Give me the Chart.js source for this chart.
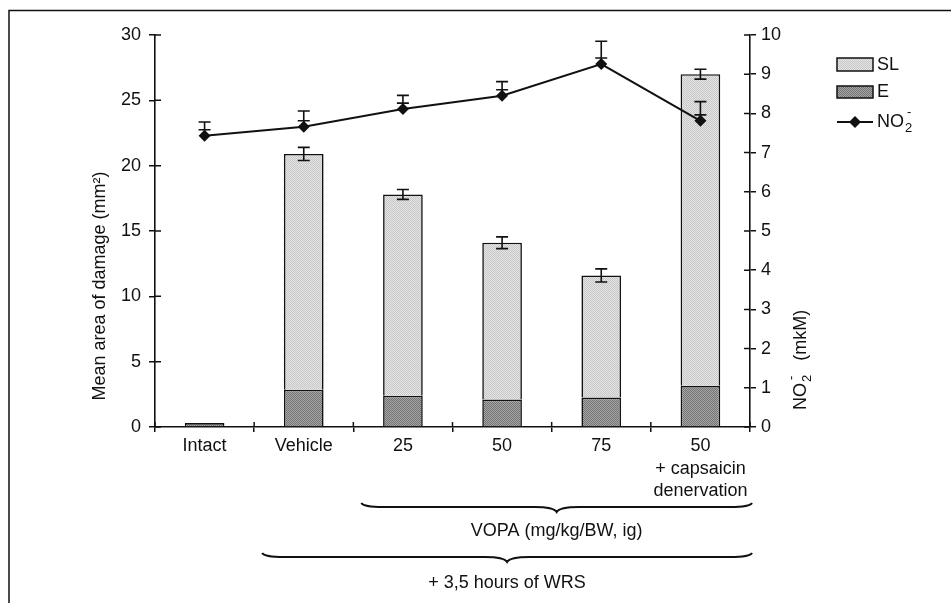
<!DOCTYPE html>
<html>
<head>
<meta charset="utf-8">
<script src="https://cdn.jsdelivr.net/npm/chart.js@4.4.1/dist/chart.umd.min.js"></script>
<style>
  html, body { margin: 0; padding: 0; background: #fff; }
  #wrap { width: 951px; height: 603px; }
</style>
</head>
<body>
<div id="wrap"><canvas id="chart" width="951" height="603"></canvas></div>
<script>
// categories on the x axis
const categories = ['Intact', 'Vehicle', '25', '50', '75', ['50', '+ capsaicin', 'denervation']];
// erosions (E), bottom part of each bar, mm2
const erosionE = [0.3, 2.85, 2.4, 2.1, 2.25, 3.15];
// superficial lesions (SL), top part of each bar, mm2
const lesionSL = [0, 18.05, 15.4, 12.0, 9.35, 23.85];
// error of total damage
const damageErr = [0, 0.5, 0.38, 0.45, 0.5, 0.38];
// nitrite level, right axis, mkM
const no2 = [7.43, 7.66, 8.11, 8.45, 9.26, 7.81];
const no2Err = [0.35, 0.4, 0.35, 0.36, 0.58, 0.49];
// axis ranges
const leftTicks = [0, 5, 10, 15, 20, 25, 30];
const rightTicks = [0, 1, 2, 3, 4, 5, 6, 7, 8, 9, 10];

const FONT = '"Liberation Sans", Arial, sans-serif';
const FS = 18;
const INK = '#111';

// stippled fills like the scanned figure
function makePattern(c1, c2) {
    const p = document.createElement('canvas');
    p.width = 2; p.height = 2;
    const g = p.getContext('2d');
    g.fillStyle = c1; g.fillRect(0, 0, 2, 2);
    g.fillStyle = c2; g.fillRect(0, 0, 1, 1); g.fillRect(1, 1, 1, 1);
    return g.createPattern(p, 'repeat');
}
const ctx = document.getElementById('chart').getContext('2d');
const fillSL = makePattern('#e4e4e4', '#c8c8c8');
const fillE = makePattern('#a6a6a6', '#737373');

function drawBrace(c, x1, x2, y0) {
    const mid = (x1 + x2) / 2;
    c.beginPath();
    c.moveTo(x1, y0);
    c.quadraticCurveTo(x1 + 2, y0 + 4, x1 + 22, y0 + 4);
    c.lineTo(mid - 22, y0 + 4);
    c.quadraticCurveTo(mid - 3, y0 + 4, mid, y0 + 9);
    c.quadraticCurveTo(mid + 3, y0 + 4, mid + 22, y0 + 4);
    c.lineTo(x2 - 22, y0 + 4);
    c.quadraticCurveTo(x2 - 2, y0 + 4, x2, y0);
    c.stroke();
}

// NO2- with subscript and superscript, drawn from (x, y) left-middle
function drawNO2(c, x, y, size) {
    c.textAlign = 'left';
    c.textBaseline = 'middle';
    c.font = size + 'px ' + FONT;
    c.fillText('NO', x, y);
    let w = c.measureText('NO').width;
    c.font = Math.round(size * 0.72) + 'px ' + FONT;
    c.fillText('2', x + w + 1, y + 6);
    c.fillText('-', x + w + 3, y - 10);
    return w + 1 + c.measureText('2').width;
}

const decor = {
    id: 'decor',
    afterDatasetsDraw(chart) {
        const c = chart.ctx;
        const y = chart.scales.y, y2 = chart.scales.y2;
        c.save();
        c.strokeStyle = INK;
        c.lineWidth = 1.6;
        // error bars on the stacked bars
        const slMeta = chart.getDatasetMeta(2);
        slMeta.data.forEach((bar, i) => {
            if (!damageErr[i]) return;
            const total = erosionE[i] + lesionSL[i];
            const yt = y.getPixelForValue(total + damageErr[i]);
            const yb = y.getPixelForValue(total - damageErr[i]);
            c.beginPath();
            c.moveTo(bar.x, yt); c.lineTo(bar.x, yb);
            c.moveTo(bar.x - 6, yt); c.lineTo(bar.x + 6, yt);
            c.moveTo(bar.x - 6, yb); c.lineTo(bar.x + 6, yb);
            c.stroke();
        });
        // error bars on the NO2 line
        const lnMeta = chart.getDatasetMeta(0);
        lnMeta.data.forEach((pt, i) => {
            const yt = y2.getPixelForValue(no2[i] + no2Err[i]);
            const yb = pt.y - 6;
            c.beginPath();
            c.moveTo(pt.x, yt); c.lineTo(pt.x, pt.y);
            c.moveTo(pt.x - 6, yt); c.lineTo(pt.x + 6, yt);
            c.moveTo(pt.x - 6, yb); c.lineTo(pt.x + 6, yb);
            c.stroke();
        });
        c.restore();
    },
    afterDraw(chart) {
        const c = chart.ctx;
        const a = chart.chartArea;
        const x = chart.scales.x, y = chart.scales.y, y2 = chart.scales.y2;
        c.save();
        c.strokeStyle = INK;
        c.fillStyle = INK;
        c.lineWidth = 1.5;

        // frame of the scanned figure
        c.beginPath();
        c.moveTo(9, 603); c.lineTo(9, 10.5); c.lineTo(951, 10.5);
        c.stroke();

        // inner halves of the tick marks
        c.beginPath();
        y.ticks.forEach(t => {
            const py = y.getPixelForValue(t.value);
            c.moveTo(a.left, py); c.lineTo(a.left + 6, py);
        });
        y2.ticks.forEach(t => {
            const py = y2.getPixelForValue(t.value);
            c.moveTo(a.right - 6, py); c.lineTo(a.right, py);
        });
        const half = (x.getPixelForValue(1) - x.getPixelForValue(0)) / 2;
        for (let i = 0; i <= categories.length; i++) {
            const px = x.getPixelForValue(0) - half + i * half * 2;
            c.moveTo(px, a.bottom); c.lineTo(px, a.bottom - 5);
        }
        c.stroke();

        // left axis title
        c.save();
        c.translate(100, 286);
        c.rotate(-Math.PI / 2);
        c.textAlign = 'center';
        c.textBaseline = 'middle';
        c.font = FS + 'px ' + FONT;
        c.fillText('Mean area of damage (mm²)', 0, 0);
        c.restore();

        // right axis title
        c.save();
        c.translate(801, 410);
        c.rotate(-Math.PI / 2);
        const w = drawNO2(c, 0, 0, FS);
        c.font = FS + 'px ' + FONT;
        c.fillText('(mkM)', w + 14, 0);
        c.restore();

        // legend
        c.lineWidth = 1.5;
        c.fillStyle = fillSL;
        c.fillRect(837, 58, 36, 13);
        c.strokeRect(837, 58, 36, 13);
        c.fillStyle = fillE;
        c.fillRect(837, 86, 36, 12);
        c.strokeRect(837, 86, 36, 12);
        c.lineWidth = 2;
        c.beginPath();
        c.moveTo(837, 122); c.lineTo(873, 122);
        c.stroke();
        c.fillStyle = INK;
        c.beginPath();
        c.moveTo(855, 116); c.lineTo(861, 122); c.lineTo(855, 128); c.lineTo(849, 122);
        c.closePath();
        c.fill();
        c.font = FS + 'px ' + FONT;
        c.textAlign = 'left';
        c.textBaseline = 'middle';
        c.fillText('SL', 877, 65);
        c.fillText('E', 877, 92);
        drawNO2(c, 877, 122, FS);

        // group braces under the x axis
        const catL = i => x.getPixelForValue(i) - half;
        c.lineWidth = 2;
        drawBrace(c, catL(2) + 8, a.right + 2, 503);
        drawBrace(c, catL(1) + 8, a.right + 2, 553);
        c.font = FS + 'px ' + FONT;
        c.textAlign = 'center';
        c.textBaseline = 'middle';
        c.fillText('VOPA (mg/kg/BW, ig)', (catL(2) + 8 + a.right + 2) / 2, 531);
        c.fillText('+ 3,5 hours of WRS', (catL(1) + 8 + a.right + 2) / 2, 583);
        c.restore();
    }
};

new Chart(ctx, {
    type: 'bar',
    data: {
        labels: categories,
        datasets: [
            {
                type: 'line',
                label: 'NO2-',
                data: no2,
                yAxisID: 'y2',
                order: 0,
                borderColor: INK,
                backgroundColor: INK,
                borderWidth: 2,
                tension: 0,
                pointStyle: 'rectRot',
                pointRadius: 6,
                pointBorderWidth: 0
            },
            {
                label: 'E',
                data: erosionE,
                yAxisID: 'y',
                stack: 'dmg',
                order: 1,
                backgroundColor: fillE,
                borderColor: INK,
                borderWidth: 1.6,
                categoryPercentage: 1,
                barPercentage: 0.4
            },
            {
                label: 'SL',
                data: lesionSL,
                yAxisID: 'y',
                stack: 'dmg',
                order: 2,
                backgroundColor: fillSL,
                borderColor: INK,
                borderWidth: 1.6,
                categoryPercentage: 1,
                barPercentage: 0.4
            }
        ]
    },
    options: {
        responsive: false,
        animation: false,
        layout: { padding: { left: 0, right: 0, top: 35, bottom: 0 } },
        plugins: {
            legend: { display: false },
            tooltip: { enabled: false }
        },
        scales: {
            x: {
                stacked: true,
                grid: { display: true, drawOnChartArea: false, color: INK, tickLength: 5, lineWidth: 1.5 },
                border: { color: INK, width: 1.6 },
                ticks: {
                    color: INK,
                    padding: 3,
                    maxRotation: 0,
                    autoSkip: false,
                    font: { family: FONT, size: FS, lineHeight: 1.25 }
                },
                afterFit: s => { s.height = 603 - 427; }
            },
            y: {
                stacked: true,
                position: 'left',
                min: leftTicks[0],
                max: leftTicks[leftTicks.length - 1],
                afterBuildTicks: s => { s.ticks = leftTicks.map(v => ({ value: v })); },
                grid: { display: true, drawOnChartArea: false, color: INK, tickLength: 6, lineWidth: 1.5 },
                border: { color: INK, width: 1.6 },
                ticks: { color: INK, padding: 8, font: { family: FONT, size: FS } },
                afterFit: s => { s.width = 155; }
            },
            y2: {
                position: 'right',
                min: rightTicks[0],
                max: rightTicks[rightTicks.length - 1],
                afterBuildTicks: s => { s.ticks = rightTicks.map(v => ({ value: v })); },
                grid: { display: true, drawOnChartArea: false, color: INK, tickLength: 6, lineWidth: 1.5 },
                border: { color: INK, width: 1.6 },
                ticks: { color: INK, padding: 5, font: { family: FONT, size: FS } },
                afterFit: s => { s.width = 951 - 750; }
            }
        }
    },
    plugins: [decor]
});
</script>
</body>
</html>
